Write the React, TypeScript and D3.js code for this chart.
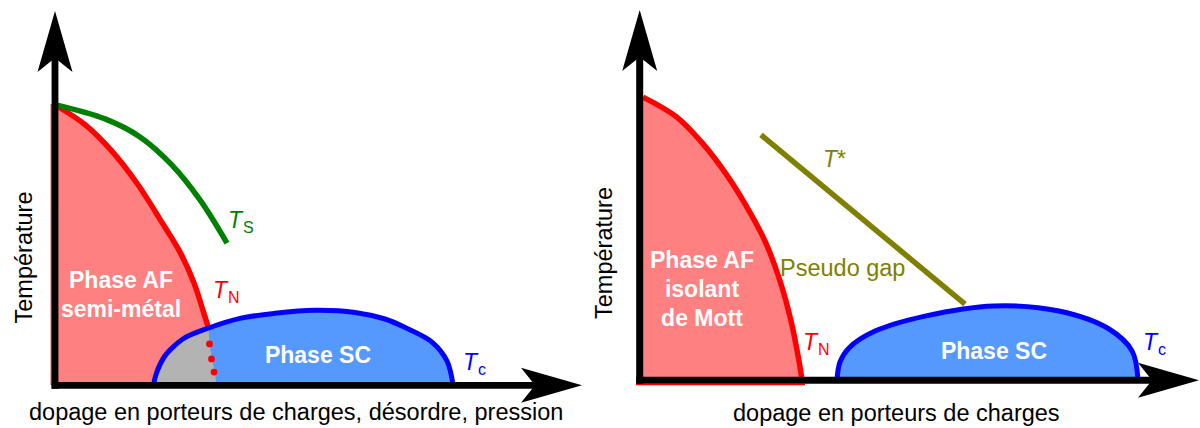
import React from "react";
import * as d3 from "d3";

type P = [number, number];

// ---- Left panel data (doping 0..100, temperature 0..100) ----
const leftTN: P[] = [[0.4, 93], [6, 86.8], [11.2, 78.3], [16.5, 67], [21.2, 54.7], [25, 44.3], [27.8, 34], [29.7, 24.3], [30.7, 19]];
const leftTS: P[] = [[0.4, 93.3], [10, 88.7], [17, 82.7], [23.4, 73.3], [29, 61.7], [34.4, 47.3]];
const leftTc: P[] = [[19.7, 0], [20.3, 4], [21.9, 9.5], [23.7, 12.8], [26, 15.8], [30.7, 19], [37, 22.2], [44, 23.9], [52, 24.9], [60, 24.2], [66, 22], [70.1, 19.1], [75.4, 14.3], [78.4, 8], [79.6, 0]];
const leftBoundary: P[] = [[30.7, 19], [30.9, 13.7], [31.4, 8.7], [32, 4], [32.3, 0]];
const leftDots: P[] = [[30.9, 13.7], [31.3, 8.7], [31.8, 4.3]];

// ---- Right panel data ----
const rightTN: P[] = [[0.7, 94.3], [7.4, 87.7], [12.7, 78.7], [17.3, 68.7], [21.1, 58.7], [25.1, 46.3], [28.1, 33], [30.3, 19.7], [31.9, 6.3], [32.5, 0]];
const rightTc: P[] = [[39.5, 0], [40.1, 6], [41.9, 10.7], [47.1, 16.3], [57.1, 21.3], [70.9, 24.7], [83.9, 23], [93.9, 17], [98.5, 9.7], [99.7, 0]];
const rightTstar: P[] = [[24.3, 81.7], [65.1, 25.3]];

// ---- Text ----
const yTitle = "Température";
const leftXTitle = "dopage en porteurs de charges, désordre, pression";
const rightXTitle = "dopage en porteurs de charges";
const leftAF = ["Phase AF", "semi-métal"];
const rightAF = ["Phase AF", "isolant", "de Mott"];
const scLabel = "Phase SC";
const pseudoGap = "Pseudo gap";

const FONT = "'Liberation Sans', Arial, sans-serif";
const RED = "#ff0000";
const RED_FILL = "#ff8080";
const BLUE = "#0000ff";
const BLUE_FILL = "#5599ff";
const GREEN = "#008000";
const OLIVE = "#808000";
const GREY = "#b3b3b3";

function arrowAxes(ox: number, oy: number, topY: number, rightX: number, w: number) {
  const L = 61, hw = 17.5, notch = 47;
  const vNotch = topY + notch;
  const hNotch = rightX - notch;
  return (
    <g>
      <line x1={ox} y1={oy + w / 2} x2={ox} y2={vNotch} stroke="#000" strokeWidth={w} />
      <line x1={ox - w / 2} y1={oy} x2={hNotch} y2={oy} stroke="#000" strokeWidth={w} />
      <path d={`M${ox},${topY}L${ox - hw},${topY + L}L${ox},${vNotch}L${ox + hw},${topY + L}Z`} fill="#000" />
      <path d={`M${rightX},${oy}L${rightX - L},${oy - hw}L${hNotch},${oy}L${rightX - L},${oy + hw}Z`} fill="#000" />
    </g>
  );
}

function TLabel({ x, y, sub, color, star }: { x: number; y: number; sub?: string; color: string; star?: boolean }) {
  return (
    <text x={x} y={y} fill={color} fontFamily={FONT} fontSize={23}>
      <tspan fontStyle="italic">T</tspan>
      {sub ? <tspan fontSize={16} dy={5} dx={1}>{sub}</tspan> : null}
      {star ? <tspan>*</tspan> : null}
    </text>
  );
}

export default function App() {
  const xL = d3.scaleLinear().domain([0, 100]).range([55, 555]);
  const yL = d3.scaleLinear().domain([0, 100]).range([385, 85]);
  const xR = d3.scaleLinear().domain([0, 100]).range([639.5, 1139.5]);
  const yR = d3.scaleLinear().domain([0, 100]).range([380, 80]);

  const lineL = d3.line<P>().x((d) => xL(d[0])).y((d) => yL(d[1])).curve(d3.curveCatmullRom);
  const lineR = d3.line<P>().x((d) => xR(d[0])).y((d) => yR(d[1])).curve(d3.curveCatmullRom);
  const straightL = d3.line<P>().x((d) => xL(d[0])).y((d) => yL(d[1]));
  const straightR = d3.line<P>().x((d) => xR(d[0])).y((d) => yR(d[1]));

  const lTN = lineL(leftTN)!;
  const lBound = lineL(leftBoundary)!;
  const leftRedArea = `M${xL(0)},${yL(0)}L${xL(0)},${yL(leftTN[0][1])}L${lTN.slice(1)}L${lBound.slice(1)}Z`;
  const leftDome = lineL(leftTc)! + "Z";
  const greyPoly: P[] = [[0, 0], [0, 30], [30.4, 30], ...leftBoundary];
  const greyPath = `M${straightL(greyPoly)!.slice(1)}Z`;

  const rTN = lineR(rightTN)!;
  const rightRedArea = `M${xR(0)},${yR(0)}L${xR(0)},${yR(rightTN[0][1])}L${rTN.slice(1)}Z`;
  const rightDome = lineR(rightTc)! + "Z";

  return (
    <svg width={1200} height={428} style={{ position: "absolute", left: 0, top: 0, background: "#fff" }}>
      <defs>
        <clipPath id="domeClip">
          <path d={leftDome} />
        </clipPath>
      </defs>
      {/* ===== Left panel ===== */}
      <path d={leftRedArea} fill={RED_FILL} />
      <line x1={xL(0) - 3.8} y1={yL(leftTN[0][1]) - 2} x2={xL(0) - 3.8} y2={yL(0)} stroke="#c00000" strokeWidth={1} />
      <path d={leftDome} fill={BLUE_FILL} />
      <path d={greyPath} fill={GREY} clipPath="url(#domeClip)" />
      <path d={lTN} fill="none" stroke={RED} strokeWidth={5.5} />
      <path d={leftDome} fill="none" stroke={BLUE} strokeWidth={5} />
      {leftDots.map((d, i) => (
        <circle key={i} cx={xL(d[0])} cy={yL(d[1])} r={3.4} fill={RED} />
      ))}
      <path d={lineL(leftTS)!} fill="none" stroke={GREEN} strokeWidth={5.5} />
      {arrowAxes(55, 385.3, 11, 582, 6.8)}

      <text transform="translate(32,257.5) rotate(-90)" textAnchor="middle" fontFamily={FONT} fontSize={23.5} fill="#000">{yTitle}</text>
      <text x={29} y={419.5} fontFamily={FONT} fontSize={23.5} fill="#000">{leftXTitle}</text>
      {leftAF.map((t, i) => (
        <text key={i} x={121} y={288 + i * 29} textAnchor="middle" fontFamily={FONT} fontWeight="bold" fontSize={23} fill="#fff">{t}</text>
      ))}
      <text x={318} y={363} textAnchor="middle" fontFamily={FONT} fontWeight="bold" fontSize={23} fill="#fff">{scLabel}</text>
      <TLabel x={228} y={228} sub="S" color={GREEN} />
      <TLabel x={213} y={298} sub="N" color={RED} />
      <TLabel x={463} y={370} sub="c" color={BLUE} />

      {/* ===== Right panel ===== */}
      <path d={rightRedArea} fill={RED_FILL} />
      <line x1={xR(0) - 3.5} y1={yR(0) + 4.5} x2={xR(rightTN[rightTN.length - 1][0]) + 3} y2={yR(0) + 4.5} stroke={RED} strokeWidth={1.5} />
      <path d={rightDome} fill={BLUE_FILL} />
      <path d={rTN} fill="none" stroke={RED} strokeWidth={5.5} />
      <path d={rightDome} fill="none" stroke={BLUE} strokeWidth={5} />
      <path d={straightR(rightTstar)!} fill="none" stroke={OLIVE} strokeWidth={5.5} />
      {arrowAxes(639.7, 380.3, 10, 1199, 7)}

      <text transform="translate(612,253) rotate(-90)" textAnchor="middle" fontFamily={FONT} fontSize={23.5} fill="#000">{yTitle}</text>
      <text x={733} y={421} fontFamily={FONT} fontSize={23.5} fill="#000">{rightXTitle}</text>
      {rightAF.map((t, i) => (
        <text key={i} x={702} y={267.6 + i * 29.2} textAnchor="middle" fontFamily={FONT} fontWeight="bold" fontSize={23} fill="#fff">{t}</text>
      ))}
      <text x={994} y={358.5} textAnchor="middle" fontFamily={FONT} fontWeight="bold" fontSize={23} fill="#fff">{scLabel}</text>
      <text x={780} y={276} fontFamily={FONT} fontSize={23.5} fill={OLIVE}>{pseudoGap}</text>
      <TLabel x={823} y={167} color={OLIVE} star />
      <TLabel x={803} y={349.5} sub="N" color={RED} />
      <TLabel x={1143} y={350} sub="c" color={BLUE} />
    </svg>
  );
}
